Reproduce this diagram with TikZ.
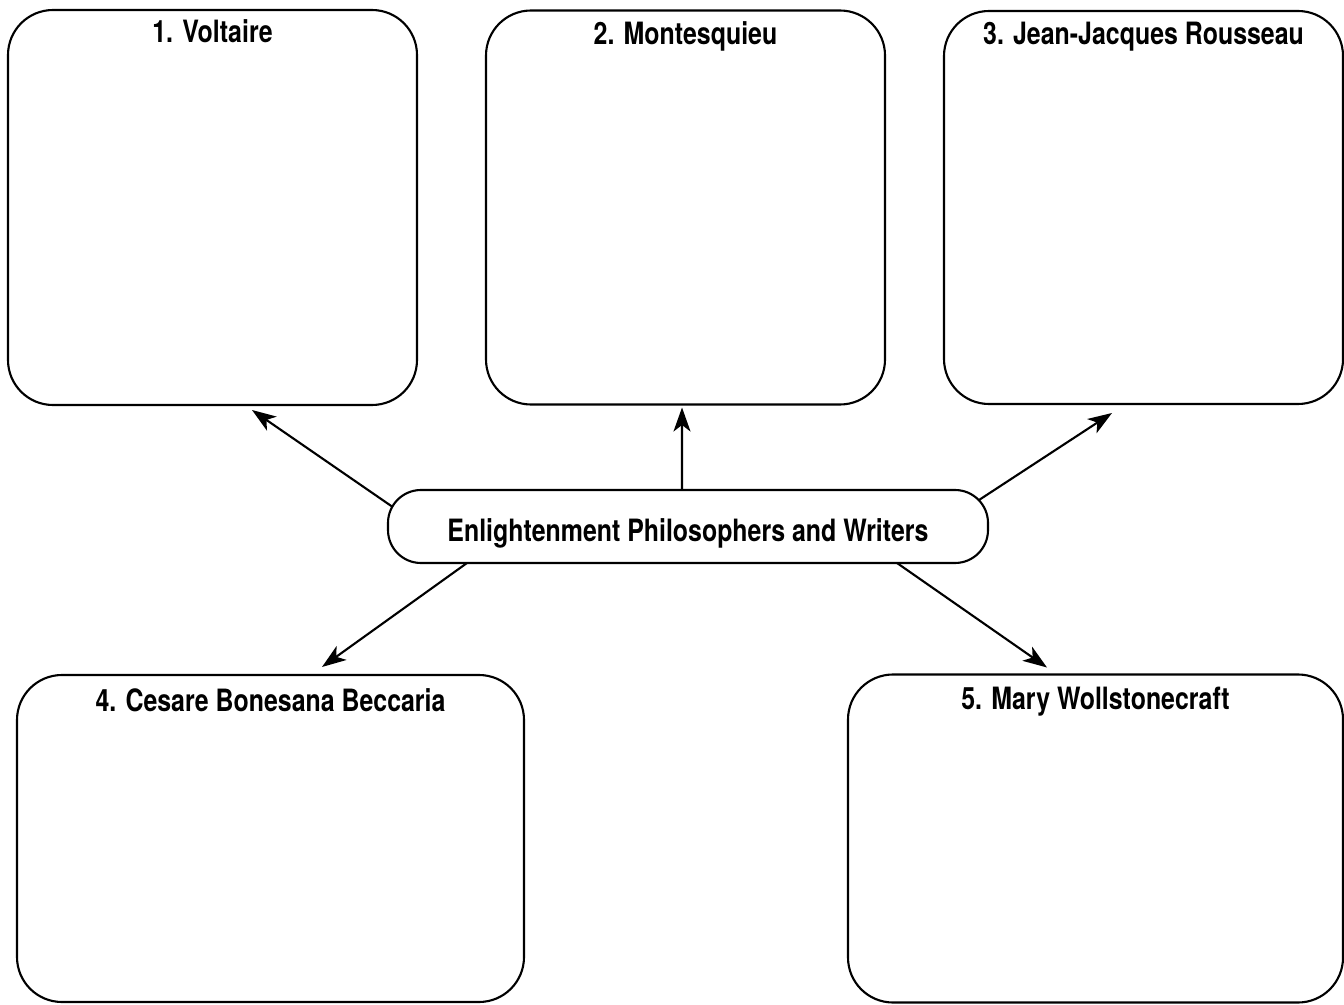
\documentclass[tikz,border=0pt]{standalone}
\usepackage{fontspec}
\setmainfont{TeX Gyre Heros}[FakeStretch=0.81]
\usetikzlibrary{arrows.meta,positioning}
\tikzset{
    %Define standard arrow tip
    >={Stealth[length=4.8mm,width=3.4mm,inset=1.3mm]},
    %Define style for the answer boxes
    namebox/.style={
           rectangle,
           rounded corners=9mm,
           draw=black, line width=1.2pt,
           inner sep=0pt, outer sep=0pt},
    %Define style for the topic in the middle
    topic-style/.style={
           rectangle,
           rounded corners=6.6mm,
           draw=black, line width=1.2pt,
           outer sep=0pt,
           minimum width=12cm,
           minimum height=1.46cm,
           text height=0.58cm, text depth=0pt,
           font=\fontsize{17.5}{21}\selectfont\bfseries,
           text centered},
    %Define style for the box headings
    heading/.style={
           anchor=base,
           font=\fontsize{17.5}{21}\selectfont\bfseries},
    % Define arrow style
    pil/.style={
           ->,
           line width=1.2pt}
}

\begin{document}
\begin{tikzpicture}
 \useasboundingbox[fill=white] (0,0) rectangle (26.88,20.08);

 % top row
 \node[namebox, minimum width=8.18cm, minimum height=7.9cm] (voltaire) at (4.25,15.93) {};
 \node[namebox, minimum width=7.98cm, minimum height=7.88cm, right=1.38cm of voltaire] (montesquieu) {};
 \node[namebox, minimum width=7.98cm, minimum height=7.86cm, right=1.18cm of montesquieu] (rousseau) {};

 % bottom row
 \node[namebox, minimum width=10.14cm, minimum height=6.54cm] (beccaria) at (5.41,3.31) {};
 \node[namebox, minimum width=9.9cm, minimum height=6.56cm, right=6.48cm of beccaria] (wollstonecraft) {};

 \node[heading] (h-voltaire) at ([yshift=-0.66cm]voltaire.north) {1. Voltaire};
 \node[heading] (h-montesquieu) at ([yshift=-0.68cm]montesquieu.north) {2. Montesquieu};
 \node[heading] (h-rousseau) at ([yshift=-0.68cm]rousseau.north) {3. Jean-Jacques Rousseau};
 \node[heading] (h-beccaria) at ([yshift=-0.72cm]beccaria.north) {4. Cesare Bonesana Beccaria};
 \node[heading] (h-wollstonecraft) at ([yshift=-0.7cm]wollstonecraft.north) {5. Mary Wollstonecraft};

 \node[topic-style] (topic) at (13.76,9.55) {Enlightenment Philosophers and Writers};

 \draw[pil] ([xshift=0.08cm,yshift=0.4cm]topic.west) -- ([xshift=0.79cm,yshift=-0.1cm]voltaire.south);
 \draw[pil] ([xshift=-0.12cm]topic.north) -- ([xshift=-0.07cm,yshift=-0.06cm]montesquieu.south);
 \draw[pil] ([xshift=-0.18cm,yshift=0.53cm]topic.east) -- ([xshift=-0.63cm,yshift=-0.18cm]rousseau.south);
 \draw[pil] ([xshift=-4.42cm]topic.south) -- ([xshift=1.03cm,yshift=0.16cm]beccaria.north);
 \draw[pil] ([xshift=4.18cm]topic.south) -- ([xshift=-0.97cm,yshift=0.14cm]wollstonecraft.north);

\end{tikzpicture}
\end{document}
